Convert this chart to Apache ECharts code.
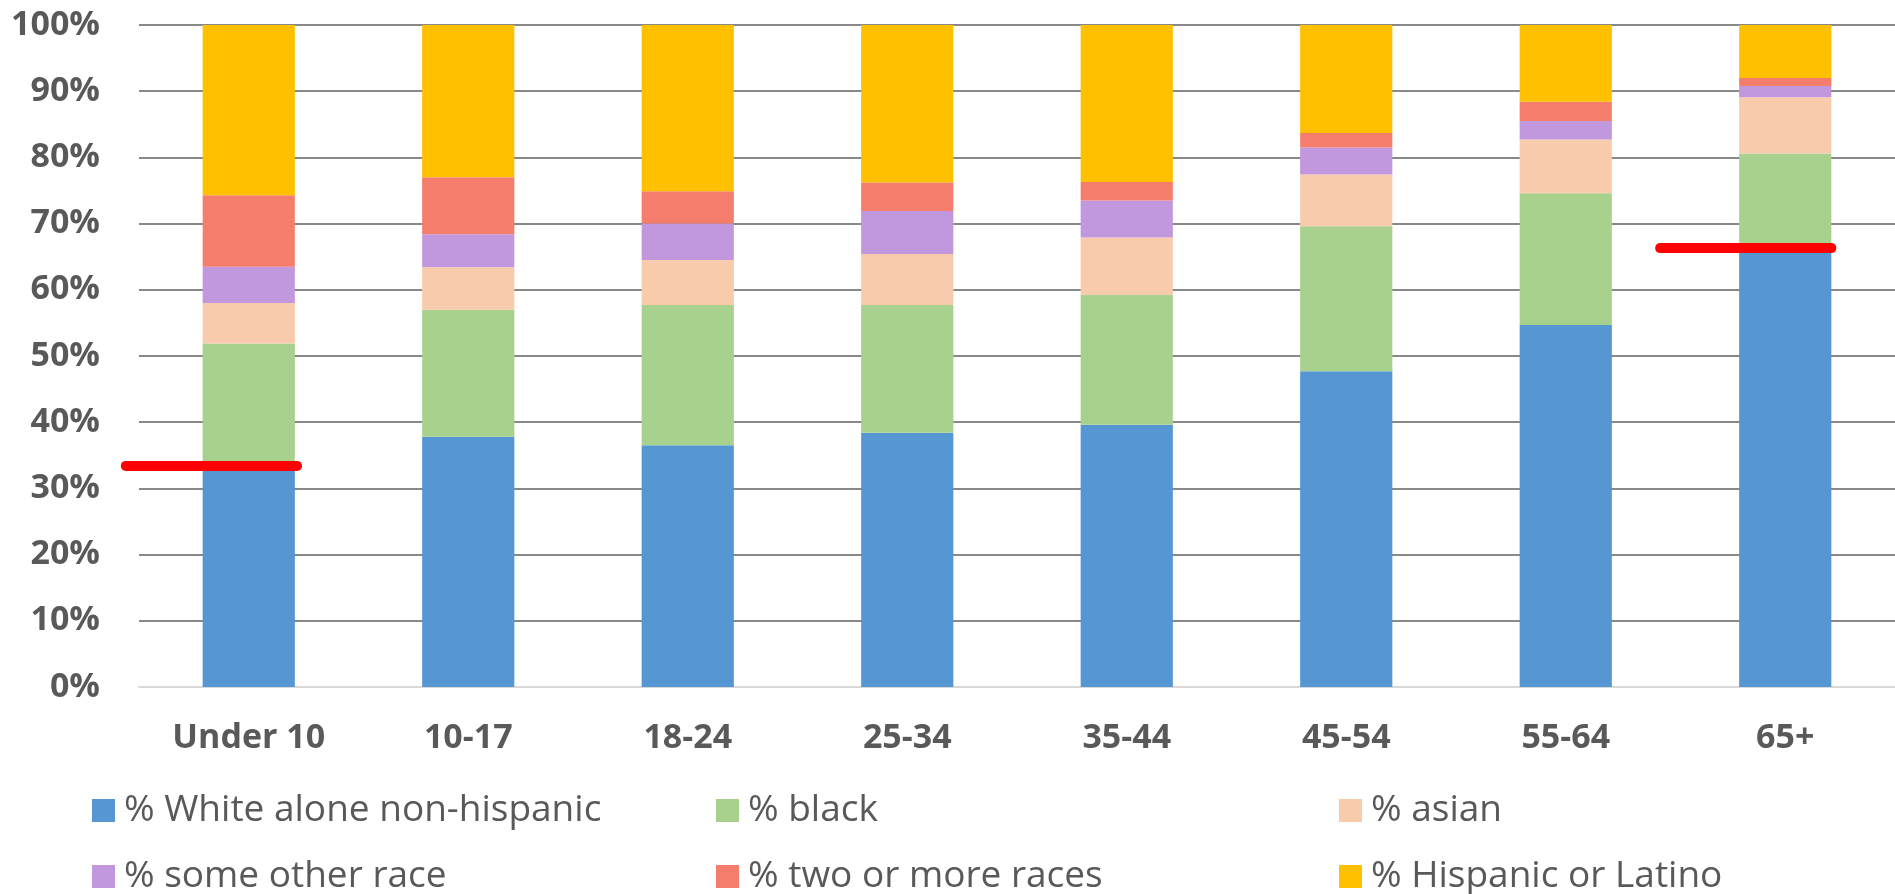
<!DOCTYPE html>
<html>
<head>
<meta charset="utf-8">
<script src="https://cdn.jsdelivr.net/npm/echarts@6/dist/echarts.min.js"></script>
<style>
  html, body { margin: 0; padding: 0; background: #ffffff; }
  #chart { width: 1895px; height: 894px; }
</style>
</head>
<body>
<div id="chart"></div>
<script>
// ---- data ----
const categories = ['Under 10', '10-17', '18-24', '25-34', '35-44', '45-54', '55-64', '65+'];
const seriesNames = ['% White alone non-hispanic', '% black', '% asian', '% some other race', '% two or more races', '% Hispanic or Latino'];
const white    = [33.2, 37.8, 36.5, 38.4, 39.6, 47.7, 54.7, 66.2];
const black    = [18.7, 19.2, 21.2, 19.3, 19.6, 21.9, 19.9, 14.4];
const asian    = [6.1, 6.4, 6.8, 7.7, 8.7, 7.8, 8.1, 8.5];
const other    = [5.5, 5.0, 5.5, 6.5, 5.6, 4.1, 2.8, 1.7];
const twoPlus  = [10.8, 8.6, 4.9, 4.3, 2.8, 2.2, 2.9, 1.2];
const hispanic = [25.7, 23.0, 25.1, 23.8, 23.7, 16.3, 11.6, 8.0];
const yTicks = [0, 10, 20, 30, 40, 50, 60, 70, 80, 90, 100];
// red highlight lines: category index, value, start/end offset from category centre (in category widths)
const refCategory = [0, 7];
const refValues   = [33.4, 66.3];
const refStart    = [-0.56, -0.57];
const refEnd      = [0.22, 0.21];

const colors = ['#5596d3', '#a9d18e', '#f8cbad', '#c198de', '#f47d6b', '#ffc000'];
const seriesData = [white, black, asian, other, twoPlus, hispanic];

const FONT = 'Open Sans';
const chart = echarts.init(document.getElementById('chart'), null, { renderer: 'canvas' });

const barSeries = seriesData.map((d, i) => ({
  name: seriesNames[i],
  type: 'bar',
  stack: 'total',
  barWidth: '42%',
  itemStyle: { color: colors[i] },
  data: d,
  z: 2
}));

const refSeries = {
  name: 'ref',
  type: 'custom',
  silent: true,
  clip: false,
  z: 5,
  data: refCategory.map((c, i) => [c, refValues[i], refStart[i], refEnd[i]]),
  renderItem: function (params, api) {
    const p = api.coord([api.value(0), api.value(1)]);
    const w = api.size([1, 0])[0];
    return {
      type: 'line',
      shape: { x1: p[0] + api.value(2) * w, y1: p[1], x2: p[0] + api.value(3) * w, y2: p[1] },
      style: { stroke: '#ff0000', lineWidth: 10, lineCap: 'round' }
    };
  }
};

// legend: 3 columns x 2 rows, row-major order of seriesNames
const legendLefts = [92, 716, 1339];
const legendTops = [792, 858];
const legends = seriesNames.map((n, i) => ({
  orient: 'horizontal',
  left: legendLefts[i % 3],
  top: legendTops[Math.floor(i / 3)],
  padding: 0,
  itemWidth: 23,
  itemHeight: 23,
  icon: 'rect',
  data: [n],
  textStyle: {
    fontFamily: FONT,
    fontSize: 37,
    color: '#595959',
    padding: [0, 0, 0, 4]
  }
}));

chart.setOption({
  backgroundColor: '#ffffff',
  animation: false,
  color: colors,
  grid: { left: 139, top: 25, width: 1767, height: 662, containLabel: false },
  legend: legends,
  xAxis: {
    type: 'category',
    data: categories,
    axisLine: { show: true, lineStyle: { color: '#d9d9d9', width: 2 } },
    axisTick: { show: false },
    axisLabel: {
      fontFamily: FONT,
      fontWeight: 'bold',
      fontSize: 34,
      color: '#595959',
      margin: 34,
      interval: 0
    }
  },
  yAxis: {
    type: 'value',
    min: yTicks[0],
    max: yTicks[yTicks.length - 1],
    interval: 10,
    axisLine: { show: false },
    axisTick: { show: false },
    splitLine: { show: true, lineStyle: { color: '#888888', width: 2 } },
    axisLabel: {
      fontFamily: FONT,
      fontWeight: 'bold',
      fontSize: 34,
      color: '#595959',
      margin: 39,
      formatter: '{value}%'
    }
  },
  series: barSeries.concat([refSeries])
});
</script>
</body>
</html>
